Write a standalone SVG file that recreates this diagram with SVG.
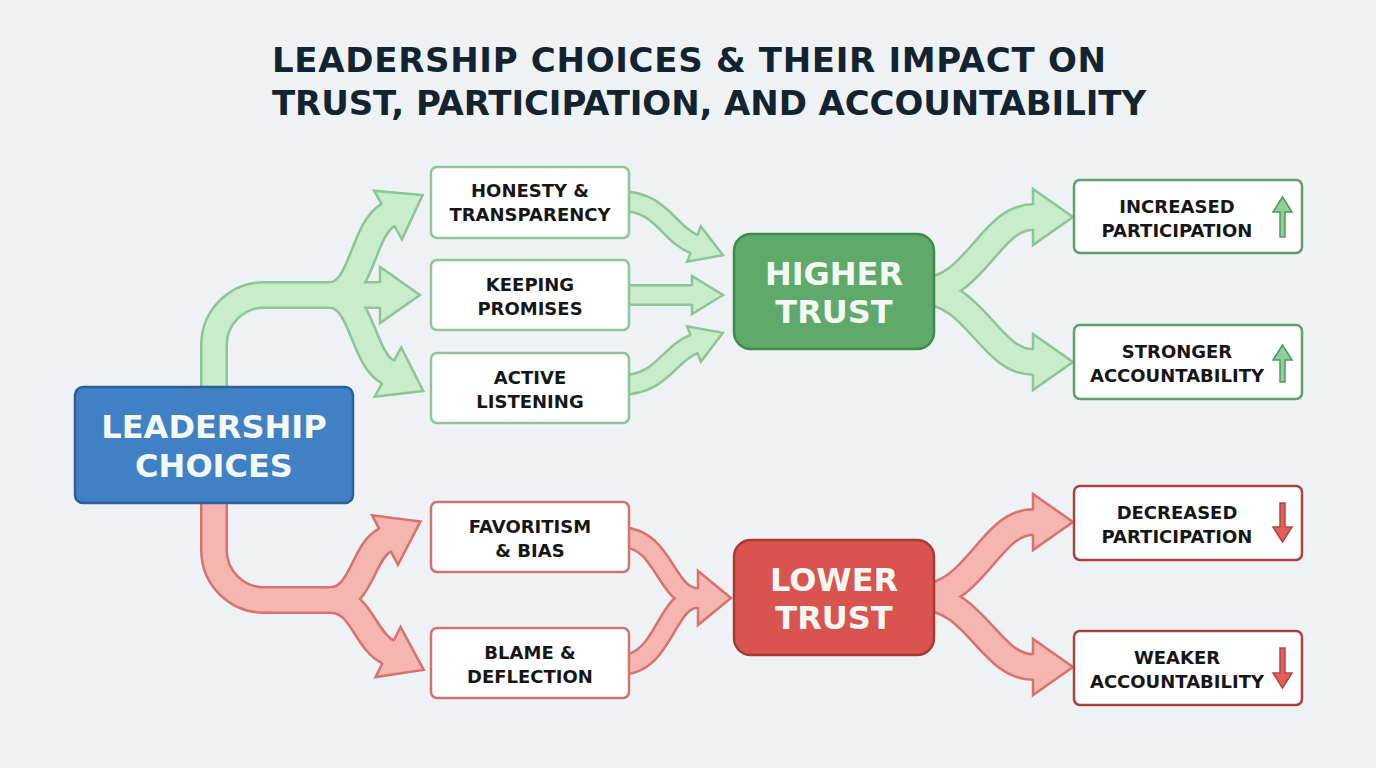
<svg xmlns="http://www.w3.org/2000/svg" width="1376" height="768" viewBox="0 0 1376 768">
<defs>
<style>
.title{font-family:"DejaVu Sans","Open Sans",sans-serif;font-weight:700;font-size:34px;fill:#142330}
.big{font-family:"DejaVu Sans","Open Sans",sans-serif;font-weight:700;font-size:32px;fill:#f3f8f3;text-anchor:middle}
.lbl{font-family:"DejaVu Sans","Open Sans",sans-serif;font-weight:700;font-size:18px;fill:#161616;text-anchor:middle}
.gbox{fill:#ffffff;stroke:#8fc598;stroke-width:2.5}
.rbox{fill:#ffffff;stroke:#d0736e;stroke-width:2.5}
.gbox2{fill:#ffffff;stroke:#5f9f69;stroke-width:2.5}
.rbox2{fill:#ffffff;stroke:#a9433f;stroke-width:2.5}
.gO{fill:none;stroke:#8cc596;stroke-linecap:butt}
.gF{fill:none;stroke:#c9ecca;stroke-linecap:butt}
.rO{fill:none;stroke:#d9716c;stroke-linecap:butt}
.rF{fill:none;stroke:#f5b5b1;stroke-linecap:butt}
.L{stroke-width:28}
.Lf{stroke-width:23}
.S{stroke-width:22}
.Sf{stroke-width:17}
</style>
<marker id="mGL" markerUnits="userSpaceOnUse" orient="auto" refX="0" refY="0" viewBox="-4 -32 50 64" markerWidth="50" markerHeight="64" overflow="visible">
<path d="M0,-28 L40,0 L0,28 Z" fill="#c9ecca"/>
<path d="M0,-12 L0,-28 L40,0 L0,28 L0,12" fill="none" stroke="#8cc596" stroke-width="2.5"/>
</marker>
<marker id="mGS" markerUnits="userSpaceOnUse" orient="auto" refX="0" refY="0" viewBox="-4 -24 40 48" markerWidth="40" markerHeight="48" overflow="visible">
<path d="M0,-19 L31,0 L0,19 Z" fill="#c9ecca"/>
<path d="M0,-9 L0,-19 L31,0 L0,19 L0,9" fill="none" stroke="#8cc596" stroke-width="2.5"/>
</marker>
<marker id="mRL" markerUnits="userSpaceOnUse" orient="auto" refX="0" refY="0" viewBox="-4 -32 50 64" markerWidth="50" markerHeight="64" overflow="visible">
<path d="M0,-28 L40,0 L0,28 Z" fill="#f5b5b1"/>
<path d="M0,-12 L0,-28 L40,0 L0,28 L0,12" fill="none" stroke="#d9716c" stroke-width="2.5"/>
</marker>
<marker id="mRM" markerUnits="userSpaceOnUse" orient="auto" refX="0" refY="0" viewBox="-4 -32 44 64" markerWidth="44" markerHeight="64" overflow="visible">
<path d="M0,-27 L33,0 L0,27 Z" fill="#f5b5b1"/>
<path d="M0,-9 L0,-27 L33,0 L0,27 L0,9" fill="none" stroke="#d9716c" stroke-width="2.5"/>
</marker>
</defs>
<rect width="1376" height="768" fill="#eef2f5"/>
<g id="title">
<text class="title" x="272" y="72" textLength="834" lengthAdjust="spacing">LEADERSHIP CHOICES &amp; THEIR IMPACT ON</text>
<text class="title" x="272" y="115" textLength="874" lengthAdjust="spacing">TRUST, PARTICIPATION, AND ACCOUNTABILITY</text>
</g>
<g id="connectors">
<path class="gO L" d="M214,392 L214,345 A50,50 0 0 1 264,295 L340,295"/>
<path class="gO L" d="M330,295 C362,295 362,230 388,215"/>
<path class="gO L" d="M330,295 L380,295"/>
<path class="gO L" d="M330,295 C362,295 362,358 388,372"/>
<path class="gO S" d="M620,201 C662,201 668,234 694,244"/>
<path class="gO S" d="M620,295 L692,295"/>
<path class="gO S" d="M620,385 C662,385 668,354 694,344"/>
<path class="gO L" d="M920,291 C975,291 990,217 1033,217"/>
<path class="gO L" d="M920,291 C975,291 990,362 1033,362"/>
<path class="rO L" d="M214,498 L214,550 A50,50 0 0 0 264,600 L340,600"/>
<path class="rO L" d="M330,600 C362,600 362,552 385,540"/>
<path class="rO L" d="M330,600 C362,600 364,640 388,652"/>
<path class="rO S" d="M620,537 C665,537 665,598 698,598"/>
<path class="rO S" d="M620,665 C665,665 665,598 698,598"/>
<path class="rO L" d="M920,597 C975,597 990,522 1033,522"/>
<path class="rO L" d="M920,597 C975,597 990,667 1033,667"/>
<path class="gF Lf" d="M214,392 L214,345 A50,50 0 0 1 264,295 L340,295"/>
<path class="gF Lf" d="M330,295 C362,295 362,230 388,215" marker-end="url(#mGL)"/>
<path class="gF Lf" d="M330,295 L380,295" marker-end="url(#mGL)"/>
<path class="gF Lf" d="M330,295 C362,295 362,358 388,372" marker-end="url(#mGL)"/>
<path class="gF Sf" d="M620,201 C662,201 668,234 694,244" marker-end="url(#mGS)"/>
<path class="gF Sf" d="M620,295 L692,295" marker-end="url(#mGS)"/>
<path class="gF Sf" d="M620,385 C662,385 668,354 694,344" marker-end="url(#mGS)"/>
<path class="gF Lf" d="M920,291 C975,291 990,217 1033,217" marker-end="url(#mGL)"/>
<path class="gF Lf" d="M920,291 C975,291 990,362 1033,362" marker-end="url(#mGL)"/>
<path class="rF Lf" d="M214,498 L214,550 A50,50 0 0 0 264,600 L340,600"/>
<path class="rF Lf" d="M330,600 C362,600 362,552 385,540" marker-end="url(#mRL)"/>
<path class="rF Lf" d="M330,600 C362,600 364,640 388,652" marker-end="url(#mRL)"/>
<path class="rF Sf" d="M620,537 C665,537 665,598 698,598"/>
<path class="rF Sf" d="M620,665 C665,665 665,598 698,598" marker-end="url(#mRM)"/>
<path class="rF Lf" d="M920,597 C975,597 990,522 1033,522" marker-end="url(#mRL)"/>
<path class="rF Lf" d="M920,597 C975,597 990,667 1033,667" marker-end="url(#mRL)"/>
</g>
<g id="leadership">
<rect x="75" y="387" width="278" height="116" rx="8" fill="#4081c6" stroke="#2d5e98" stroke-width="2.5"/>
<text class="big" x="214" y="438">LEADERSHIP</text>
<text class="big" x="214" y="477">CHOICES</text>
</g>
<g id="honesty">
<rect class="gbox" x="431" y="167" width="198" height="71" rx="6"/>
<text class="lbl" x="530" y="197">HONESTY &amp;</text>
<text class="lbl" x="530" y="221">TRANSPARENCY</text>
</g>
<g id="keeping">
<rect class="gbox" x="431" y="260" width="198" height="70" rx="6"/>
<text class="lbl" x="530" y="291">KEEPING</text>
<text class="lbl" x="530" y="315">PROMISES</text>
</g>
<g id="active">
<rect class="gbox" x="431" y="353" width="198" height="70" rx="6"/>
<text class="lbl" x="530" y="384">ACTIVE</text>
<text class="lbl" x="530" y="408">LISTENING</text>
</g>
<g id="favoritism">
<rect class="rbox" x="431" y="502" width="198" height="70" rx="6"/>
<text class="lbl" x="530" y="533">FAVORITISM</text>
<text class="lbl" x="530" y="557">&amp; BIAS</text>
</g>
<g id="blame">
<rect class="rbox" x="431" y="628" width="198" height="70" rx="6"/>
<text class="lbl" x="530" y="659">BLAME &amp;</text>
<text class="lbl" x="530" y="683">DEFLECTION</text>
</g>
<g id="higher">
<rect x="734" y="234" width="200" height="115" rx="17" fill="#5fa96b" stroke="#3f8a4c" stroke-width="2.5"/>
<text class="big" x="834" y="285">HIGHER</text>
<text class="big" x="834" y="323">TRUST</text>
</g>
<g id="lower">
<rect x="734" y="540" width="200" height="115" rx="17" fill="#d9534f" stroke="#a83a36" stroke-width="2.5"/>
<text class="big" x="834" y="591">LOWER</text>
<text class="big" x="834" y="629">TRUST</text>
</g>
<g id="increased">
<rect class="gbox2" x="1074" y="180" width="228" height="73" rx="6"/>
<text class="lbl" x="1177" y="213">INCREASED</text>
<text class="lbl" x="1177" y="237">PARTICIPATION</text>
<path d="M1280,237 L1280,212 L1273,212 L1282.5,197 L1292,212 L1285,212 L1285,237 Z" fill="#8fcf98" stroke="#4e9a5a" stroke-width="1.5"/>
</g>
<g id="stronger">
<rect class="gbox2" x="1074" y="325" width="228" height="74" rx="6"/>
<text class="lbl" x="1177" y="358">STRONGER</text>
<text class="lbl" x="1177" y="382">ACCOUNTABILITY</text>
<path d="M1280,382 L1280,360 L1273,360 L1282.5,345 L1292,360 L1285,360 L1285,382 Z" fill="#8fcf98" stroke="#4e9a5a" stroke-width="1.5"/>
</g>
<g id="decreased">
<rect class="rbox2" x="1074" y="486" width="228" height="74" rx="6"/>
<text class="lbl" x="1177" y="519">DECREASED</text>
<text class="lbl" x="1177" y="543">PARTICIPATION</text>
<path d="M1280,503 L1280,527 L1273,527 L1282.5,542 L1292,527 L1285,527 L1285,503 Z" fill="#e0605a" stroke="#b8443f" stroke-width="1.5"/>
</g>
<g id="weaker">
<rect class="rbox2" x="1074" y="631" width="228" height="74" rx="6"/>
<text class="lbl" x="1177" y="664">WEAKER</text>
<text class="lbl" x="1177" y="688">ACCOUNTABILITY</text>
<path d="M1280,648 L1280,673 L1273,673 L1282.5,688 L1292,673 L1285,673 L1285,648 Z" fill="#e0605a" stroke="#b8443f" stroke-width="1.5"/>
</g>
</svg>
